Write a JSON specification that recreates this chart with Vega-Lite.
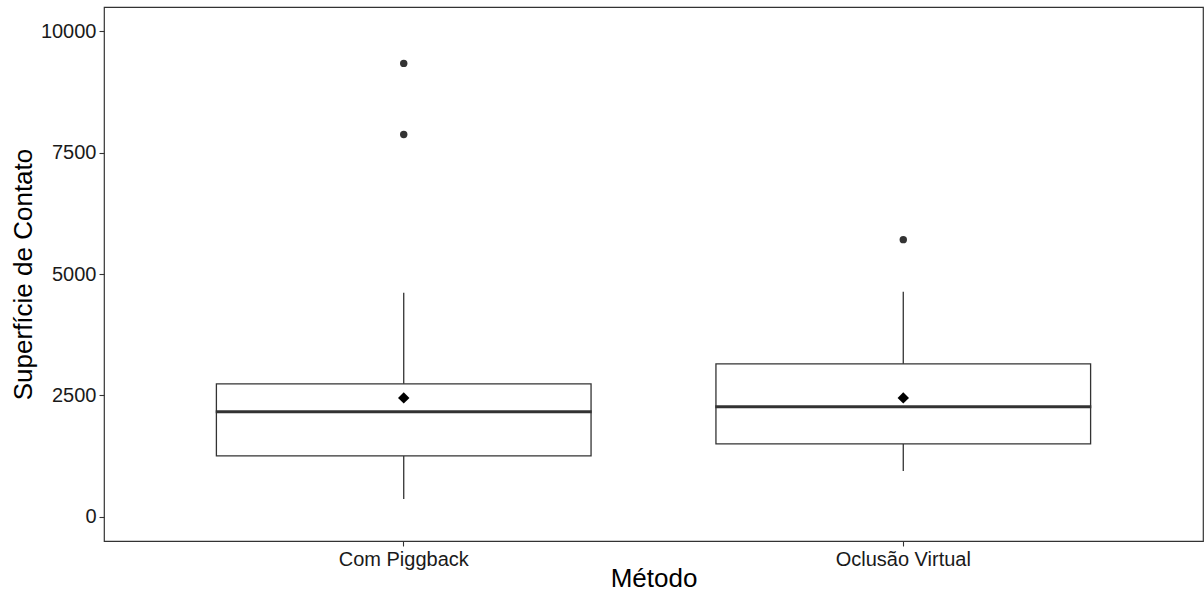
{
  "$schema": "https://vega.github.io/schema/vega-lite/v6.json",
  "width": 1099,
  "height": 534,
  "autosize": "none",
  "padding": {"left": 104, "top": 7, "right": 1, "bottom": 53},
  "background": "white",
  "config": {
    "view": {"stroke": "#333333", "strokeWidth": 1.2},
    "font": "Liberation Sans",
    "axis": {"grid": false, "domain": false, "tickColor": "#333333", "tickSize": 5, "tickWidth": 1.1, "labelFontSize": 20, "labelColor": "#1a1a1a", "titleFontSize": 26, "titleFontWeight": "normal", "titleColor": "#000000", "labelFont": "Liberation Sans", "titleFont": "Liberation Sans"}
  },
  "datasets": {
    "stats": [
      {"metodo": "Com Piggback", "lower": 365, "q1": 1252, "median": 2160, "q3": 2737, "upper": 4614, "mean": 2448},
      {"metodo": "Oclusão Virtual", "lower": 943, "q1": 1500, "median": 2263, "q3": 3150, "upper": 4635, "mean": 2448}
    ],
    "outliers": [
      {"metodo": "Com Piggback", "valor": 9338},
      {"metodo": "Com Piggback", "valor": 7873},
      {"metodo": "Oclusão Virtual", "valor": 5708}
    ]
  },
  "encoding": {
    "x": {
      "field": "metodo",
      "type": "nominal",
      "scale": {"domain": ["Com Piggback", "Oclusão Virtual"], "paddingInner": 0, "paddingOuter": 0.1},
      "axis": {"title": "Método", "labelAngle": 0, "labelPadding": 3, "titleY": 24, "titleBaseline": "top"}
    }
  },
  "layer": [
    {
      "data": {"name": "stats"},
      "mark": {"type": "rule", "color": "#333333", "strokeWidth": 1.3},
      "encoding": {
        "y": {"field": "lower", "type": "quantitative", "scale": {"domain": [-500, 10500], "nice": false, "zero": false}, "axis": {"title": "Superfície de Contato", "values": [0, 2500, 5000, 7500, 10000], "format": "d", "labelPadding": 3, "titlePadding": 4}},
        "y2": {"field": "upper"}
      }
    },
    {
      "data": {"name": "stats"},
      "mark": {"type": "bar", "width": {"band": 0.75}, "fill": "white", "stroke": "#333333", "strokeWidth": 1.3},
      "encoding": {
        "y": {"field": "q1", "type": "quantitative"},
        "y2": {"field": "q3"}
      }
    },
    {
      "data": {"name": "stats"},
      "mark": {"type": "tick", "size": 376, "thickness": 3, "color": "#333333", "opacity": 1},
      "encoding": {
        "y": {"field": "median", "type": "quantitative"}
      }
    },
    {
      "data": {"name": "outliers"},
      "mark": {"type": "point", "filled": true, "color": "#333333", "opacity": 1, "size": 55},
      "encoding": {
        "y": {"field": "valor", "type": "quantitative"}
      }
    },
    {
      "data": {"name": "stats"},
      "mark": {"type": "point", "shape": "diamond", "filled": true, "color": "#000000", "opacity": 1, "size": 130},
      "encoding": {
        "y": {"field": "mean", "type": "quantitative"}
      }
    }
  ]
}
